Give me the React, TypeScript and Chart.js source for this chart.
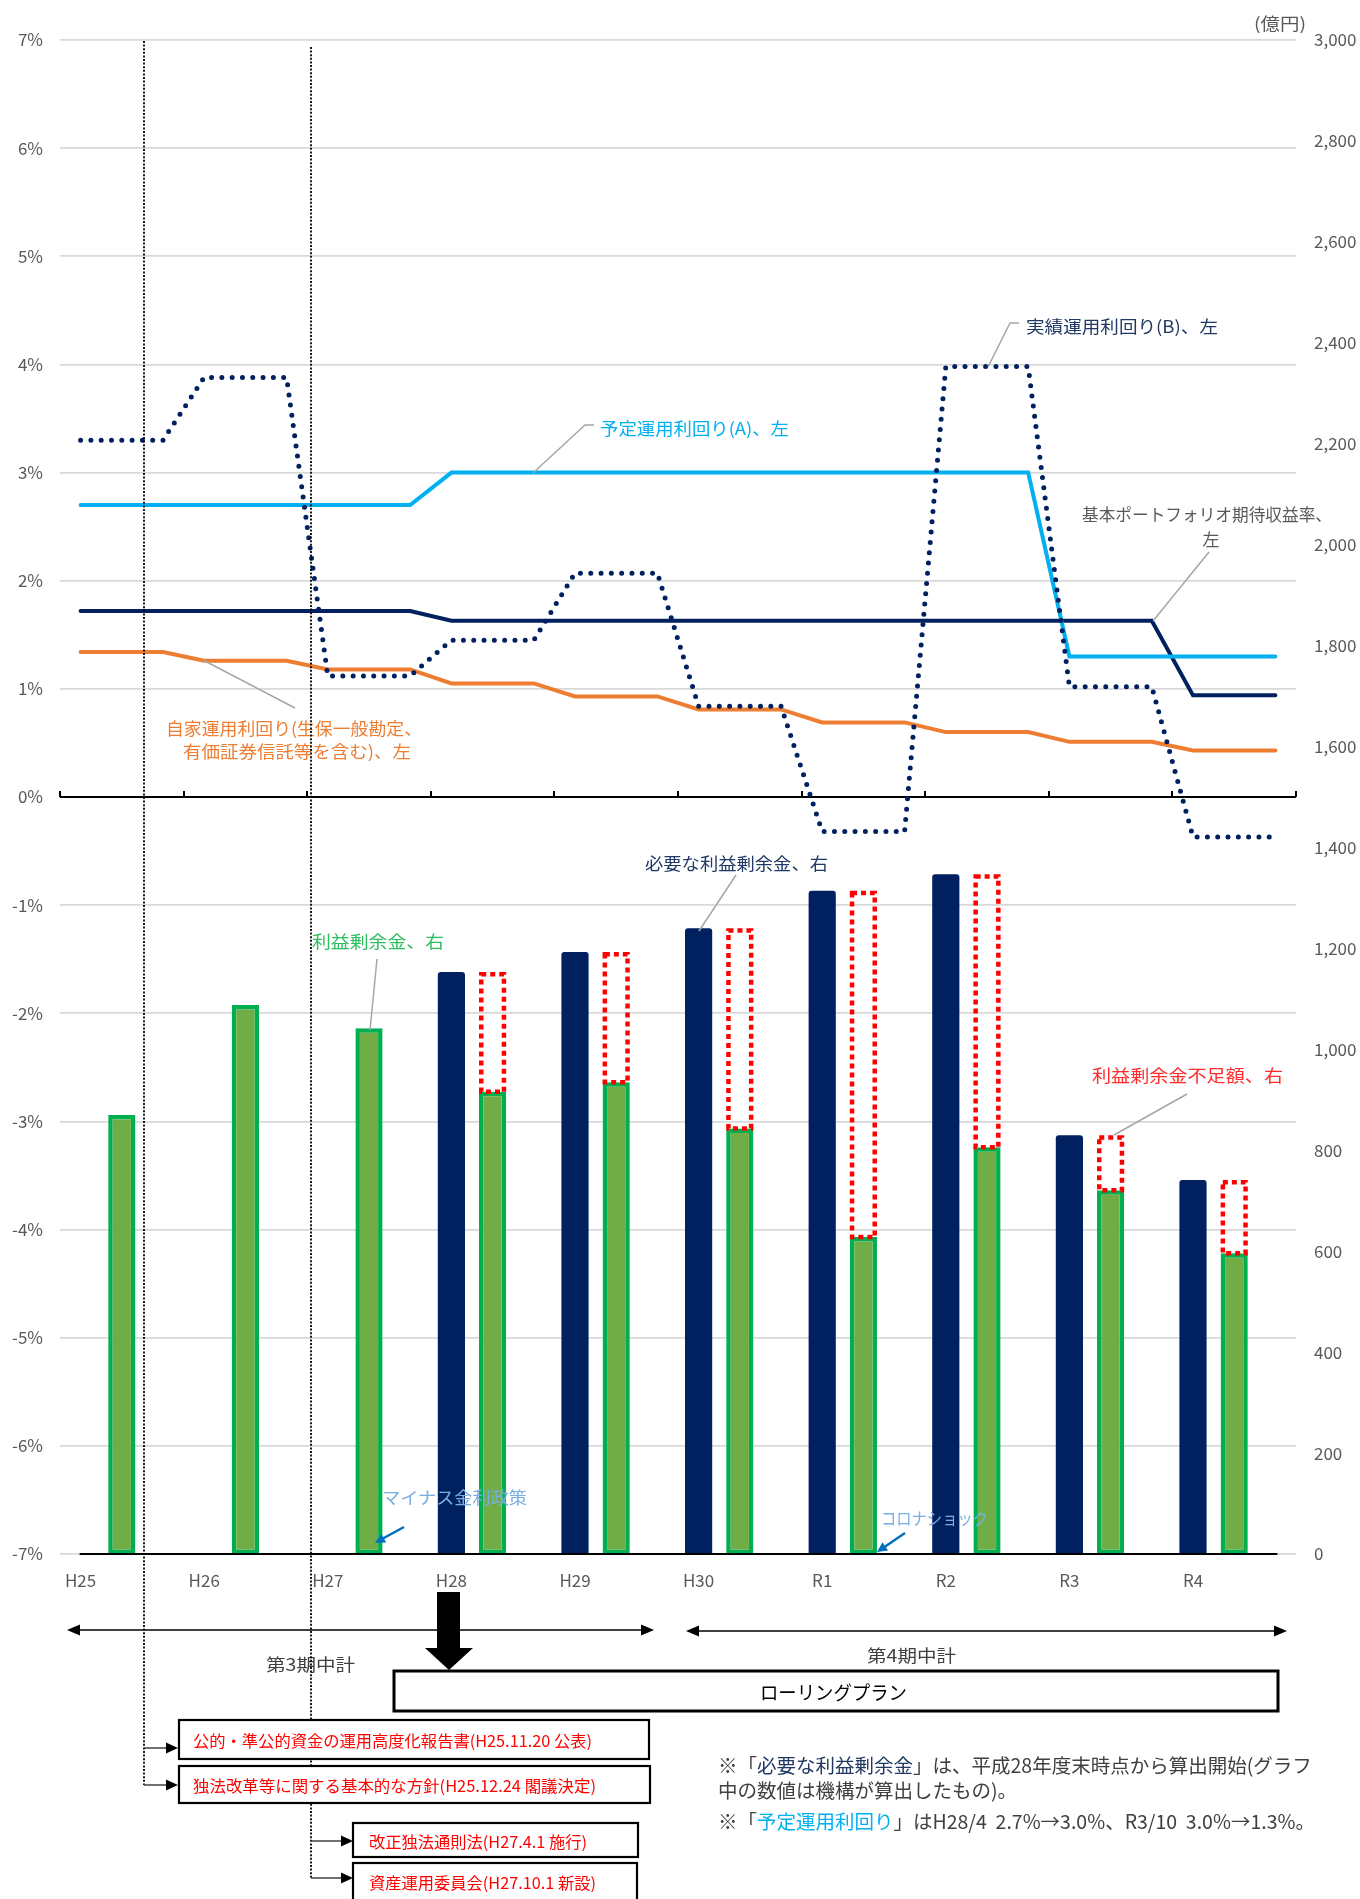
import React, { useEffect, useRef } from 'react';
import { Chart, registerables } from 'chart.js';

Chart.register(...registerables);

const FONT = "'Noto Sans CJK JP', 'Noto Sans', sans-serif";
Chart.defaults.font.family = FONT;

// ---- data (fiscal years) ----
const years = ['H25', 'H26', 'H27', 'H28', 'H29', 'H30', 'R1', 'R2', 'R3', 'R4'];
// left axis (%)
const actualYield = [3.3, 3.88, 1.12, 1.45, 2.07, 0.84, -0.32, 3.98, 1.02, -0.37]; // 実績運用利回り(B)
const plannedYield = [2.7, 2.7, 2.7, 3.0, 3.0, 3.0, 3.0, 3.0, 1.3, 1.3]; // 予定運用利回り(A)
const portfolioReturn = [1.72, 1.72, 1.72, 1.63, 1.63, 1.63, 1.63, 1.63, 1.63, 0.94]; // 基本ポートフォリオ期待収益率
const ownYield = [1.34, 1.26, 1.18, 1.05, 0.93, 0.81, 0.69, 0.6, 0.51, 0.43]; // 自家運用利回り
// right axis (億円)
const requiredSurplus = [null, null, null, 1153, 1193, 1240, 1314, 1347, 830, 741]; // 必要な利益剰余金
const retainedEarnings = [870, 1088, 1042, 916, 935, 843, 628, 806, 721, 596]; // 利益剰余金
const shortfall = [null, null, null, 237, 258, 397, 686, 541, 109, 145]; // 利益剰余金不足額

// axis ranges / tick steps
const leftRange = [-7, 7];
const leftStep = 1;
const rightRange = [0, 3000];
const rightStep = 200;

// the original sheet has three sub-slots per fiscal year
const SUB = 3;
const slotLabels = years.flatMap((y) => [y, '', '']);
const stepSeries = (arr: number[]) => arr.flatMap((v) => Array(SUB).fill(v));
const slotSeries = (arr: (number | null)[], slot: number) =>
  arr.flatMap((v) => Array.from({ length: SUB }, (_, s) => (s === slot ? v : null)));

const GRAY = '#595959';
const NAVY = '#002060';

const decorPlugin = {
  id: 'decor',
  beforeDatasetsDraw(chart: any) {
    const { ctx, chartArea, scales } = chart;
    const x = scales.x;
    const y = scales.y;
    const y0 = Math.round(y.getPixelForValue(0));
    ctx.save();
    ctx.strokeStyle = '#000';
    ctx.lineWidth = 2;
    ctx.beginPath();
    ctx.moveTo(chartArea.left, y0);
    ctx.lineTo(chartArea.right, y0);
    const w = x.getPixelForValue(1) - x.getPixelForValue(0);
    for (let k = 0; k <= years.length; k++) {
      const px = Math.round(x.getPixelForValue(k * SUB) - w / 2);
      ctx.moveTo(px, y0);
      ctx.lineTo(px, y0 - 6);
    }
    ctx.stroke();
    ctx.restore();
  },
  afterDatasetsDraw(chart: any) {
    const { ctx, scales } = chart;
    const x = scales.x;
    const y = scales.y;
    ctx.save();
    // dotted outline of the shortfall bars
    const meta = chart.getDatasetMeta(2);
    const lw = 4.5;
    ctx.strokeStyle = '#FF0000';
    ctx.lineWidth = lw;
    ctx.setLineDash([5, 4]);
    meta.data.forEach((el: any, i: number) => {
      const v = chart.data.datasets[2].data[i];
      if (v == null) return;
      const p = el.getProps(['x', 'y', 'base', 'width'], true);
      const left = p.x - p.width / 2 + lw / 2;
      const right = p.x + p.width / 2 - lw / 2;
      const top = p.y + lw / 2;
      const bot = p.base;
      ctx.beginPath();
      ctx.rect(left, top, right - left, bot - top);
      ctx.stroke();
    });
    ctx.setLineDash([]);
    // bottom baseline
    const yb = Math.round(y.getPixelForValue(leftRange[0]));
    ctx.strokeStyle = '#000';
    ctx.lineWidth = 2;
    ctx.beginPath();
    ctx.moveTo(x.getPixelForValue(0) - 1, yb);
    ctx.lineTo(x.getPixelForValue(slotLabels.length - 1) + 2, yb);
    ctx.stroke();
    ctx.restore();
  },
};

function arrowHead(x1: number, y1: number, x2: number, y2: number, len: number, half: number) {
  const dx = x2 - x1;
  const dy = y2 - y1;
  const d = Math.hypot(dx, dy);
  const ux = dx / d;
  const uy = dy / d;
  const bx = x2 - ux * len;
  const by = y2 - uy * len;
  return `${x2},${y2} ${bx - uy * half},${by + ux * half} ${bx + uy * half},${by - ux * half}`;
}

const Txt = ({ x, y, w, color, size = 17, children }: any) => (
  <text
    x={x}
    y={y}
    fill={color}
    fontSize={size}
    dominantBaseline="central"
    textLength={w}
    lengthAdjust="spacingAndGlyphs"
  >
    {children}
  </text>
);

export default function App() {
  const ref = useRef<HTMLCanvasElement>(null);

  useEffect(() => {
    const chart = new Chart(ref.current as HTMLCanvasElement, {
      type: 'bar',
      data: {
        labels: slotLabels,
        datasets: [
          {
            type: 'bar',
            label: '必要な利益剰余金、右',
            data: slotSeries(requiredSurplus, 0),
            yAxisID: 'y1',
            stack: 's',
            backgroundColor: NAVY,
            borderRadius: { topLeft: 3, topRight: 3 },
            borderSkipped: 'start',
            barPercentage: 0.66,
            categoryPercentage: 1,
            order: 10,
          },
          {
            type: 'bar',
            label: '利益剰余金、右',
            data: slotSeries(retainedEarnings, 1),
            yAxisID: 'y1',
            stack: 's',
            backgroundColor: '#70AD47',
            borderColor: '#00B050',
            borderWidth: 4.5,
            borderSkipped: false,
            barPercentage: 0.66,
            categoryPercentage: 1,
            order: 11,
          },
          {
            type: 'bar',
            label: '利益剰余金不足額、右',
            data: slotSeries(shortfall, 1),
            yAxisID: 'y1',
            stack: 's',
            backgroundColor: 'rgba(255,255,255,0)',
            borderWidth: 0,
            barPercentage: 0.66,
            categoryPercentage: 1,
            order: 12,
          },
          {
            type: 'line',
            label: '実績運用利回り(B)、左',
            data: stepSeries(actualYield),
            yAxisID: 'y',
            borderColor: NAVY,
            borderWidth: 5,
            borderDash: [0, 10.3],
            borderCapStyle: 'round',
            pointRadius: 0,
            tension: 0,
            fill: false,
            order: 0,
          },
          {
            type: 'line',
            label: '予定運用利回り(A)、左',
            data: stepSeries(plannedYield),
            yAxisID: 'y',
            borderColor: '#00B0F0',
            borderWidth: 4,
            borderCapStyle: 'round',
            pointRadius: 0,
            tension: 0,
            fill: false,
            order: 1,
          },
          {
            type: 'line',
            label: '基本ポートフォリオ期待収益率、左',
            data: stepSeries(portfolioReturn),
            yAxisID: 'y',
            borderColor: NAVY,
            borderWidth: 4,
            borderCapStyle: 'round',
            pointRadius: 0,
            tension: 0,
            fill: false,
            order: 2,
          },
          {
            type: 'line',
            label: '自家運用利回り、左',
            data: stepSeries(ownYield),
            yAxisID: 'y',
            borderColor: '#ED7D31',
            borderWidth: 4,
            borderCapStyle: 'round',
            pointRadius: 0,
            tension: 0,
            fill: false,
            order: 3,
          },
        ],
      },
      options: {
        responsive: false,
        animation: false,
        devicePixelRatio: 1,
        layout: { padding: { top: 40, left: 0, right: 0, bottom: 0 } },
        plugins: { legend: { display: false }, tooltip: { enabled: false } },
        scales: {
          x: {
            type: 'category',
            offset: true,
            grid: { display: false, drawTicks: false },
            border: { display: false },
            ticks: {
              autoSkip: false,
              maxRotation: 0,
              minRotation: 0,
              color: GRAY,
              font: { size: 17 },
              padding: 16,
            },
            afterFit: (s: any) => {
              s.height = 66;
            },
          },
          y: {
            position: 'left',
            min: leftRange[0],
            max: leftRange[1],
            grid: { color: '#D9D9D9', lineWidth: 1.8, drawTicks: false },
            border: { display: false },
            ticks: {
              stepSize: leftStep,
              color: GRAY,
              font: { size: 17 },
              padding: 17,
              callback: (v: any) => `${v}%`,
            },
            afterFit: (s: any) => {
              s.width = 60;
            },
          },
          y1: {
            position: 'right',
            min: rightRange[0],
            max: rightRange[1],
            stacked: true,
            grid: { display: false, drawTicks: false },
            border: { display: false },
            ticks: {
              stepSize: rightStep,
              color: GRAY,
              font: { size: 17 },
              padding: 18,
              callback: (v: any) => Number(v).toLocaleString('en-US'),
            },
            afterFit: (s: any) => {
              s.width = 64;
            },
          },
        },
      },
      plugins: [decorPlugin],
    } as any);
    return () => chart.destroy();
  }, []);

  const lead = { stroke: '#A6A6A6', strokeWidth: 1.5, fill: 'none' };
  const box = { fill: '#fff', stroke: '#000', strokeWidth: 2.2 };
  const dots = { stroke: '#000', strokeWidth: 1.8, strokeDasharray: '2,1.6' };

  return (
    <div
      style={{
        position: 'absolute',
        left: 0,
        top: 0,
        width: 1360,
        height: 1899,
        background: '#fff',
        overflow: 'hidden',
        fontFamily: FONT,
      }}
    >
      <canvas
        ref={ref}
        width={1360}
        height={1620}
        style={{ position: 'absolute', left: 0, top: 0, width: 1360, height: 1620 }}
      />
      <svg
        width={1360}
        height={1899}
        style={{ position: 'absolute', left: 0, top: 0, pointerEvents: 'none', fontFamily: FONT }}
      >
        {/* unit */}
        <Txt x={1254} y={22} w={52} color={GRAY} size={17}>(億円)</Txt>

        {/* series labels */}
        <polyline points="1019,323 1010,323 988,367" {...lead} />
        <Txt x={1026} y={325} w={192} color="#203864">実績運用利回り(B)、左</Txt>

        <polyline points="594,425 585,425 533,473" {...lead} />
        <Txt x={600} y={427} w={189} color="#00B0F0">予定運用利回り(A)、左</Txt>

        <line x1={1209} y1={552} x2={1153} y2={621} {...lead} />
        <Txt x={1082} y={513} w={250} color={GRAY}>基本ポートフォリオ期待収益率、</Txt>
        <text x={1211} y={538} fill={GRAY} fontSize={17} textAnchor="middle" dominantBaseline="central">左</text>

        <line x1={295} y1={708} x2={203} y2={660} {...lead} />
        <Txt x={166} y={727} w={256} color="#ED7D31">自家運用利回り(生保一般勘定、</Txt>
        <Txt x={183} y={750} w={228} color="#ED7D31">有価証券信託等を含む)、左</Txt>

        <line x1={736} y1={875} x2={699} y2={931} {...lead} />
        <Txt x={645} y={862} w={183} color="#203864">必要な利益剰余金、右</Txt>

        <line x1={377} y1={959} x2={370} y2={1030} {...lead} />
        <Txt x={312} y={940} w={132} color="#2DBE60">利益剰余金、右</Txt>

        <line x1={1187} y1={1094} x2={1114} y2={1135} {...lead} />
        <Txt x={1092} y={1074} w={191} color="#FF2A2A">利益剰余金不足額、右</Txt>

        <Txt x={382} y={1496} w={145} color="#79AEE0">マイナス金利政策</Txt>
        <line x1={404} y1={1527} x2={382} y2={1539} stroke="#0070C0" strokeWidth={2.5} />
        <polygon points={arrowHead(404, 1527, 375, 1543, 10, 5)} fill="#0070C0" />

        <Txt x={881} y={1517} w={107} color="#79AEE0">コロナショック</Txt>
        <line x1={905} y1={1533} x2={883} y2={1548} stroke="#0070C0" strokeWidth={2.5} />
        <polygon points={arrowHead(905, 1533, 877, 1552, 10, 5)} fill="#0070C0" />

        {/* period arrows */}
        <line x1={78} y1={1630} x2={643} y2={1630} stroke="#000" strokeWidth={1.5} />
        <polygon points="67,1630 80,1624.5 80,1635.5" fill="#000" />
        <polygon points="654,1630 641,1624.5 641,1635.5" fill="#000" />
        <Txt x={266} y={1663} w={89} color="#404040">第3期中計</Txt>

        <line x1={697} y1={1631} x2={1276} y2={1631} stroke="#000" strokeWidth={1.5} />
        <polygon points="686,1631 699,1625.5 699,1636.5" fill="#000" />
        <polygon points="1287,1631 1274,1625.5 1274,1636.5" fill="#000" />
        <Txt x={867} y={1654} w={89} color="#404040">第4期中計</Txt>

        {/* event lines */}
        <line x1={144} y1={41} x2={144} y2={1785} {...dots} />
        <line x1={311} y1={47} x2={311} y2={1878} {...dots} />

        {/* rolling plan */}
        <rect x={394} y={1671} width={884} height={40} fill="#fff" stroke="#000" strokeWidth={3} />
        <polygon points="437,1592 460,1592 460,1648 473,1648 449,1670 425,1648 437,1648" fill="#000" />
        <Txt x={760} y={1691} w={147} color="#000" size={19}>ローリングプラン</Txt>

        {/* event boxes */}
        <line x1={144} y1={1748} x2={168} y2={1748} stroke="#404040" strokeWidth={1.5} />
        <polygon points="178,1748 166,1742.5 166,1753.5" fill="#000" />
        <line x1={144} y1={1785} x2={168} y2={1785} stroke="#404040" strokeWidth={1.5} />
        <polygon points="178,1785 166,1779.5 166,1790.5" fill="#000" />
        <line x1={311} y1={1841} x2={343} y2={1841} stroke="#404040" strokeWidth={1.5} />
        <polygon points="353,1841 341,1835.5 341,1846.5" fill="#000" />
        <line x1={311} y1={1878} x2={343} y2={1878} stroke="#404040" strokeWidth={1.5} />
        <polygon points="353,1878 341,1872.5 341,1883.5" fill="#000" />

        <rect x={179} y={1720} width={470} height={39} {...box} />
        <Txt x={193} y={1740} w={399} color="#FF0000" size={16}>公的・準公的資金の運用高度化報告書(H25.11.20 公表)</Txt>
        <rect x={179} y={1766} width={471} height={37} {...box} />
        <Txt x={193} y={1785} w={403} color="#FF0000" size={16}>独法改革等に関する基本的な方針(H25.12.24 閣議決定)</Txt>
        <rect x={353} y={1823} width={285} height={34} {...box} />
        <Txt x={369} y={1841} w={218} color="#FF0000" size={16}>改正独法通則法(H27.4.1 施行)</Txt>
        <rect x={353} y={1863} width={284} height={40} {...box} />
        <Txt x={369} y={1882} w={227} color="#FF0000" size={16}>資産運用委員会(H27.10.1 新設)</Txt>

        {/* notes */}
        <text x={718} y={1764} fontSize={19.5} fill="#404040" dominantBaseline="central">
          ※「<tspan fill="#203864">必要な利益剰余金</tspan>」は、平成28年度末時点から算出開始(グラフ
        </text>
        <text x={718} y={1789} fontSize={19.5} fill="#404040" dominantBaseline="central">
          中の数値は機構が算出したもの)。
        </text>
        <text x={718} y={1820} fontSize={19.5} fill="#404040" dominantBaseline="central" style={{ whiteSpace: 'pre' }}>
          ※「<tspan fill="#00B0F0">予定運用利回り</tspan>」はH28/4  2.7%→3.0%、R3/10  3.0%→1.3%。
        </text>
      </svg>
    </div>
  );
}
